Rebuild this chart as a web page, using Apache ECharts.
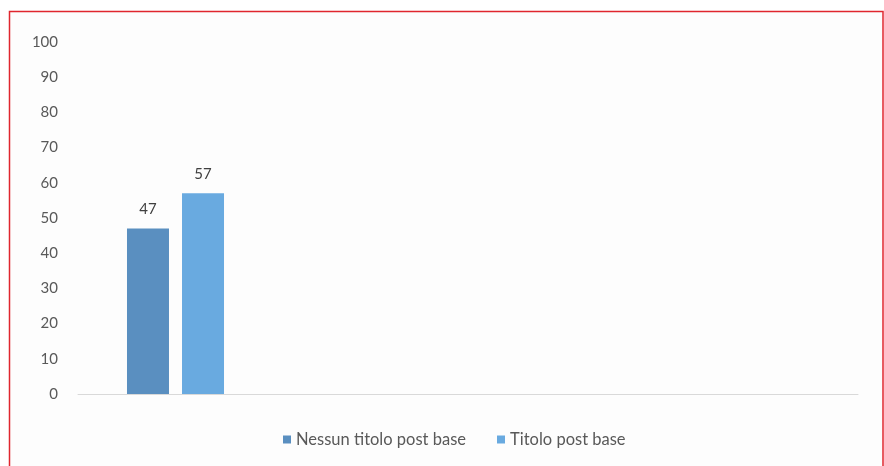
<!DOCTYPE html>
<html>
<head>
<meta charset="utf-8">
<script src="https://cdn.jsdelivr.net/npm/echarts@6/dist/echarts.min.js"></script>
<style>
  html, body { margin: 0; padding: 0; background: #fff; }
  #chart { width: 884px; height: 466px; }
</style>
</head>
<body>
<div id="chart"></div>
<script>
// chart data
const categories = ["", "", "", ""];
const seriesNames = ["Nessun titolo post base", "Titolo post base"];
const nessunTitolo = [47, null, null, null];
const titoloPost = [57, null, null, null];
const colors = ["#5a8fc0", "#69aae0"];

const chart = echarts.init(document.getElementById("chart"));

const labelStyle = {
  show: true,
  position: "top",
  distance: 12,
  color: "#404040",
  fontSize: 15,
  fontFamily: "Lato",
};

chart.setOption({
  animation: false,
  backgroundColor: "#fff",
  textStyle: { fontFamily: "Lato" },
  graphic: [
    {
      type: "rect",
      shape: { x: 9.5, y: 11.5, width: 873.5, height: 470 },
      style: { fill: "#fdfdfd", stroke: "#e0262e", lineWidth: 1.5 },
      z: -10,
    },
  ],
  grid: { left: 78, right: 26, top: 42, bottom: 72 },
  legend: {
    bottom: 13,
    left: 278,
    itemWidth: 8,
    itemHeight: 8,
    itemGap: 31,
    icon: "rect",
    textStyle: { color: "#595959", fontSize: 16.5, fontFamily: "Lato" },
    data: seriesNames,
  },
  xAxis: {
    type: "category",
    data: categories,
    axisLine: { lineStyle: { color: "#d9d9d9", width: 1 } },
    axisTick: { show: false },
    axisLabel: { show: false },
  },
  yAxis: {
    type: "value",
    min: 0,
    max: 100,
    interval: 10,
    axisLine: { show: false },
    axisTick: { show: false },
    splitLine: { show: false },
    axisLabel: { color: "#595959", fontSize: 15, margin: 20 },
  },
  series: [
    {
      name: seriesNames[0],
      type: "bar",
      data: nessunTitolo,
      barWidth: 42,
      barGap: "31%",
      itemStyle: { color: colors[0] },
      label: labelStyle,
    },
    {
      name: seriesNames[1],
      type: "bar",
      data: titoloPost,
      barWidth: 42,
      itemStyle: { color: colors[1] },
      label: labelStyle,
    },
  ],
});
</script>
</body>
</html>
